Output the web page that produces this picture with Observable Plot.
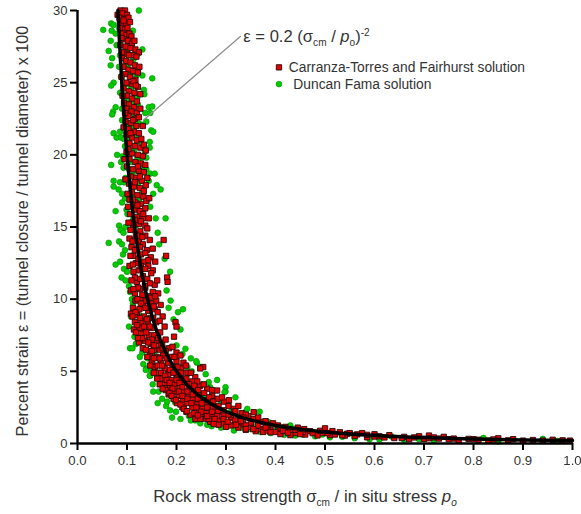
<!DOCTYPE html>
<html><head><meta charset="utf-8">
<script src="https://cdn.jsdelivr.net/npm/d3@7"></script>
<script src="https://cdn.jsdelivr.net/npm/@observablehq/plot@0.6"></script>
<style>html,body{margin:0;padding:0;background:#fff}svg{display:block;filter:blur(.45px)}</style>
</head><body><div id="chart"></div>
<script>
// [rock mass strength ratio, percent strain] pairs
const greenUpper = [[.124,30],[.052,28.66],[.068,29.1],[.073,29],[.069,28.6],[.077,28.4],[.067,27.9],[.079,27.6],[.063,27.2],[.131,27.3],[.07,26.7],[.067,26.2],[.151,25.3],[.131,25.5],[.073,25],[.068,24.8],[.134,24.5],[.135,24.2],[.077,23.3],[.072,23],[.07,22.8],[.144,23.3],[.151,23.35],[.137,22.9],[.147,22.9],[.139,22.3],[.149,21.7],[.153,21.6],[.073,21.5],[.086,21.6],[.079,21.2],[.088,21.2],[.146,20.9],[.146,20.5],[.08,20],[.068,19.3],[.088,19.5],[.139,19.8],[.139,19],[.147,18.7],[.156,18.7],[.073,18.2],[.073,17.8],[.086,18.1],[.094,18.1],[.16,17.9],[.168,17.6],[.153,17.3],[.083,17.6],[.077,16.1],[.158,15.6],[.178,15.6],[.09,16.7],[.142,16.9],[.104,16.9],[.089,28.1],[.122,27],[.084,26.1],[.118,25.9],[.086,24.3],[.121,24],[.09,22.4],[.128,22.1],[.096,20.6],[.131,19.2],[.097,18.4],[.147,16.4],[.101,15.9],[.091,19.9],[.093,19.1],[.09,17.3],[.096,17],[.099,16.2],[.144,18.2],[.136,20.2],[.094,21.1],[.09,23.2],[.088,25.4],[.086,26.9],[.084,28.8]];
const greenInner = [[.112,28.6],[.107,27.8],[.098,27.2],[.113,26.6],[.101,26.2],[.109,25.7],[.119,25.5],[.1,24.9],[.108,24.6],[.117,24.1],[.102,23.8],[.111,23.6],[.122,23.5],[.105,23.1],[.114,22.8],[.122,22.2],[.1,22.1],[.113,22],[.106,21.7],[.117,21.3],[.127,20.9],[.104,21.1],[.114,20.3],[.108,20.3],[.121,19.8],[.129,19.8],[.11,19.5],[.119,18.9],[.104,19],[.111,18.6],[.128,18.7],[.122,18],[.109,17.9],[.131,17.5],[.114,17.2],[.124,16.9],[.11,16.4],[.118,16.3],[.131,16.1],[.113,15.6],[.126,15.6],[.118,15.1]];
const greenMiddle = [[.063,13.9],[.084,15.1],[.087,14.8],[.097,15],[.084,14],[.09,13.8],[.092,13.1],[.077,12.4],[.086,12.6],[.094,12.1],[.089,11.5],[.097,11.3],[.104,10.9],[.106,10.5],[.187,11.9],[.188,9.9],[.184,9.4],[.203,9.1],[.213,9.3],[.208,7.9],[.104,8.1],[.115,7.4],[.106,6.6],[.111,6.6],[.131,6.3],[.126,6],[.139,5.2],[.147,4.7],[.152,4.1],[.153,3.6],[.162,2.8],[.187,2.3],[.191,1.8],[.208,1.7],[.241,5.6],[.259,4.8],[.282,4.4],[.299,3.9],[.299,3.6],[.319,3.2],[.316,.9],[.29,1.1],[.3,1.2],[.279,1.6],[.238,1.6],[.225,1.9],[.12,7.9],[.124,8.9],[.112,9.7],[.128,7.1],[.142,5.9],[.133,5.5],[.149,5],[.164,3.6],[.171,3.1],[.179,2.6],[.199,2.2],[.215,2.4],[.229,1.6],[.248,1.4],[.262,1.3],[.271,1.2],[.251,4.1],[.268,3.9],[.231,5],[.222,5.3],[.288,3],[.305,2.7],[.34,2.2],[.332,1.1],[.35,1],[.181,2.9],[.197,2.86],[.248,5.3],[.265,4.25],[.297,3.56],[.343,2.4],[.368,2.2],[.37,.95],[.218,6.56],[.24,5.7],[.146,4.7],[.138,5.1],[.155,6.2],[.118,6.9],[.108,8.8],[.11,10],[.1,11.9],[.096,13.4],[.194,8.6],[.18,10.6],[.176,12.8],[.165,13.8],[.162,14.6],[.093,14.6],[.2,6.8],[.212,6.2],[.229,5.9],[.255,3.3],[.276,3.1],[.31,2.2],[.328,1.9],[.262,1.9],[.292,1.5],[.177,3.9],[.168,4.4]];
const greenTail = [[.37,.8],[.39,.72],[.402,.96],[.418,.6],[.44,.55],[.455,.62],[.48,.5],[.495,.62],[.51,.43],[.535,.46],[.56,.37],[.59,.3],[.61,.28],[.635,.48],[.66,.24],[.69,.3],[.72,.22],[.82,.38],[.85,.15],[.94,.32],[.97,.18],[.36,1.7],[.385,1.5],[.43,1.25],[.352,1.3],[.41,1.05],[.33,1.75]];
const redUpper = [[.087,30],[.096,30],[.081,29.7],[.091,29.8],[.1,29.7],[.085,29.5],[.094,29.4],[.103,29.5],[.09,29.1],[.098,29.1],[.106,29.2],[.088,28.8],[.096,28.7],[.101,28.8],[.092,28.4],[.099,28.3],[.105,28.4],[.109,28.2],[.094,28],[.102,27.9],[.11,27.7],[.097,27.5],[.107,27.4],[.117,27.3],[.124,27.1],[.093,27.1],[.101,27],[.111,26.9],[.119,26.8],[.09,26.7],[.098,26.5],[.107,26.4],[.116,26.2],[.125,26.1],[.093,26.1],[.103,25.9],[.112,25.8],[.097,25.6],[.106,25.4],[.117,25.2],[.099,25],[.11,24.9],[.122,24.7],[.093,24.6],[.104,24.4],[.115,24.3],[.1,24.1],[.11,23.9],[.12,23.7],[.094,23.6],[.104,23.5],[.114,23.3],[.099,23.2],[.109,23],[.12,22.9],[.103,22.7],[.116,22.5],[.124,22.6],[.097,22.3],[.108,22.2],[.119,22],[.103,21.8],[.114,21.6],[.124,21.5],[.099,21.4],[.11,21.2],[.12,21],[.129,21.1],[.105,20.8],[.116,20.6],[.127,20.5],[.099,20.2],[.11,20.1],[.122,20],[.132,19.9],[.105,19.7],[.117,19.5],[.128,19.4],[.1,19.2],[.112,19],[.124,18.9],[.134,18.8],[.108,18.5],[.119,18.4],[.13,18.2],[.104,18],[.114,17.8],[.126,17.7],[.138,17.9],[.11,17.4],[.121,17.2],[.133,17.1],[.105,16.9],[.117,16.7],[.128,16.6],[.115,16.2],[.126,16.1],[.137,16.3],[.106,15.9],[.12,15.7],[.132,15.6],[.11,15.3],[.124,15.2],[.137,15.1],[.144,15.6]];
const redMiddle = [[.112,14.9],[.118,14.5],[.127,14.7],[.137,14.4],[.105,14.2],[.115,14.1],[.124,14],[.174,14.1],[.132,13.8],[.109,13.6],[.12,13.5],[.14,13.4],[.128,13.1],[.179,13],[.113,13],[.148,12.9],[.118,12.5],[.134,12.6],[.105,12.3],[.143,12.3],[.124,12],[.152,12],[.113,11.9],[.132,11.6],[.181,11.5],[.141,11.4],[.12,11.2],[.182,11.2],[.156,11],[.146,11.1],[.108,10.6],[.127,10.7],[.137,10.8],[.116,10.4],[.152,10.5],[.143,10.2],[.163,10.4],[.127,10],[.159,9.9],[.117,9.9],[.133,9.6],[.149,9.7],[.168,9.6],[.112,9.4],[.125,9.3],[.143,9.2],[.156,9.3],[.108,9],[.12,8.9],[.134,8.8],[.147,8.7],[.172,8.8],[.116,8.4],[.129,8.4],[.142,8.3],[.159,8.4],[.198,8.4],[.125,8],[.137,7.9],[.15,8],[.2,8.1],[.114,7.9],[.167,7.7],[.128,7.6],[.144,7.5],[.155,7.5],[.195,7.4],[.124,7],[.137,7.1],[.16,7.1],[.171,7],[.148,6.9],[.132,6.6],[.154,6.5],[.166,6.5],[.185,6.6],[.178,6.4],[.2,6.3],[.146,6.2],[.16,6],[.173,6.1],[.19,6],[.208,6.1],[.15,5.7],[.168,5.6],[.183,5.6],[.2,5.7],[.214,5.6],[.156,5.3],[.176,5.2],[.192,5.3],[.254,5.3],[.248,5.2],[.21,5.2],[.163,4.9],[.183,4.8],[.2,4.8],[.222,4.9],[.17,4.5],[.19,4.4],[.209,4.5],[.238,4.6]];
const redLower = [[.177,4.2],[.197,4.1],[.216,4.2],[.186,3.9],[.206,3.9],[.226,3.9],[.248,4],[.178,3.7],[.195,3.6],[.214,3.6],[.235,3.7],[.262,3.8],[.184,3.4],[.204,3.3],[.224,3.4],[.244,3.4],[.272,3.3],[.194,3.1],[.213,3],[.233,3.1],[.255,3],[.283,3.1],[.201,2.8],[.221,2.8],[.242,2.7],[.263,2.8],[.296,2.9],[.212,2.5],[.232,2.5],[.252,2.4],[.274,2.5],[.305,2.6],[.22,2.2],[.24,2.2],[.26,2.1],[.284,2.2],[.316,2.4],[.228,2],[.25,1.9],[.271,1.9],[.295,2],[.332,2.1],[.238,1.7],[.26,1.7],[.284,1.6],[.31,1.8],[.345,1.9],[.268,1.5],[.296,1.4],[.322,1.5],[.356,1.7],[.285,1.3],[.31,1.25],[.335,1.35],[.37,1.5],[.325,1.1],[.35,1.15],[.385,1.3],[.34,.95],[.37,1],[.405,1.25],[.36,.85],[.39,.95],[.42,1.15],[.445,1.1]];
const redTail = [[.375,.8],[.4,.8],[.43,.9],[.458,1],[.41,.65],[.44,.72],[.47,.85],[.495,.73],[.43,.58],[.46,.62],[.485,.56],[.5,1.05],[.515,.86],[.53,.78],[.545,.68],[.565,.63],[.575,.72],[.51,.58],[.54,.55],[.6,.64],[.61,.5],[.63,.58],[.585,.43],[.64,.38],[.66,.46],[.67,.3],[.69,.5],[.71,.55],[.72,.42],[.74,.46],[.7,.32],[.75,.3],[.79,.32],[.81,.26],[.85,.36],[.88,.3],[.9,.2],[.92,.24],[.96,.26],[.98,.22],[.995,.2],[.83,.2],[.77,.2]];
const redDense = [[.093,29.3],[.089,28.1],[.115,27.9],[.086,27.6],[.104,26.9],[.122,25.7],[.089,25.4],[.113,25.1],[.127,24.2],[.091,24.1],[.118,24.8],[.096,22.9],[.127,23.2],[.112,22.4],[.132,22],[.093,21.9],[.107,21.5],[.134,20.7],[.103,20.4],[.138,20.3],[.095,19.7],[.122,19.2],[.137,19.3],[.126,18.5],[.141,18.4],[.097,18.3],[.116,18.1],[.134,17.5],[.101,17.3],[.112,16.9],[.139,16.8],[.145,17],[.102,16.4],[.121,16.5],[.133,15.9],[.116,15.5],[.103,15.3],[.128,15.4],[.141,14.9],[.107,14.8],[.122,14.4],[.131,14.3],[.146,14.1],[.111,14],[.126,13.6],[.137,13.2],[.116,13.4],[.152,13.5],[.107,13],[.123,12.8],[.143,12.7],[.157,12.6],[.112,12.4],[.128,12.3],[.149,11.8],[.116,11.5],[.127,11.4],[.137,12.1],[.109,11.3],[.161,11.3],[.136,10.9],[.122,10.8],[.113,10.7],[.148,10.1],[.131,10.3],[.157,10.2],[.121,10],[.139,9.9],[.154,9.5],[.117,9.1],[.128,9.7],[.137,9.4],[.162,9.1],[.111,8.8],[.126,8.7],[.14,8.6],[.153,8.7],[.166,8.5],[.12,8.2],[.134,8.1],[.146,8.1],[.176,8.1],[.118,7.7],[.131,7.3],[.139,7.7],[.15,7.2],[.163,7.3],[.122,7.3],[.143,7],[.155,6.8],[.168,6.8],[.178,7.2],[.138,6.5],[.15,6.4],[.172,6.6],[.192,6.7],[.141,6],[.154,5.9],[.166,5.9],[.18,5.9],[.196,6],[.147,5.4],[.162,5.4],[.171,5.4],[.187,5.1],[.202,5.3],[.219,5.4],[.154,4.9],[.169,4.9],[.177,4.7],[.194,4.9],[.209,4.9],[.229,4.9],[.161,4.5],[.18,4.4],[.2,4.4],[.22,4.5],[.232,4.3],[.166,4.1],[.186,4.2],[.206,4.2],[.225,4.1],[.242,4.3],[.172,3.8],[.192,3.8],[.212,3.9],[.236,4],[.255,4.1],[.186,3.5],[.205,3.6],[.222,3.6],[.244,3.7],[.272,3.7],[.19,3.3],[.212,3.3],[.233,3.4],[.256,3.5],[.282,3.67],[.199,3],[.222,3.1],[.243,3.1],[.266,3.2],[.292,3.2],[.208,2.7],[.23,2.8],[.251,2.8],[.274,2.9],[.306,3],[.215,2.4],[.24,2.5],[.262,2.5],[.285,2.6],[.319,2.24],[.221,2.24],[.236,2.1],[.25,2.2],[.272,2.2],[.295,2.3],[.325,2.6],[.248,1.7],[.265,1.7],[.243,1.95],[.262,1.9],[.282,1.9],[.305,2],[.34,2],[.356,2.17],[.277,1.7],[.295,1.7],[.318,1.6],[.335,1.8],[.365,1.8],[.275,1.35],[.304,1.5],[.33,1.55],[.35,1.45],[.38,1.55],[.3,1.15],[.32,1.3],[.34,1.25],[.365,1.25],[.395,1.4],[.34,1],[.384,.9],[.355,1],[.38,1.1],[.41,1.1],[.415,.88],[.44,.95],[.39,.78],[.425,.75],[.455,.8],[.475,.72],[.45,.65],[.49,.88],[.505,.72],[.52,.62],[.55,.72],[.535,.58],[.56,.52],[.585,.6],[.6,.48],[.62,.42],[.655,.38],[.68,.42],[.71,.36],[.73,.34],[.76,.34],[.8,.3],[.84,.28],[.87,.22],[.94,.2]];
// the fitted line
const curveX = [.0816,.085,.09,.095,.1,.105,.11,.12,.13,.14,.15,.16,.18,.2,.22,.25,.3,.35,.4,.5,.6,.7,.8,.9,1];
const curveY = [30,27.7,24.7,22.2,20,18.1,16.5,13.9,11.8,10.2,8.9,7.8,6.2,5,4.13,3.2,2.22,1.63,1.25,.8,.56,.41,.31,.25,.2];
const xTicks = [0,.1,.2,.3,.4,.5,.6,.7,.8,.9,1];
const yTicks = [0,5,10,15,20,25,30];
const legendLabels = ["Carranza-Torres and Fairhurst solution","Duncan Fama solution"];
const leaderX = [.133,.329], leaderY = [22.4,28.2];

const ink="#333", font="'Liberation Sans',Arial,sans-serif";
const green=[...greenUpper,...greenInner,...greenMiddle,...greenTail];
const red=[...redUpper,...redMiddle,...redLower,...redTail,...redDense];

const chart = Plot.plot({
  width:581,height:514,marginLeft:77,marginRight:9,marginTop:10,marginBottom:71,
  style:{fontFamily:font,background:"#fff",overflow:"visible"},
  x:{domain:[0,1]},y:{domain:[0,30]},
  marks:[
    Plot.dot(green,{x:d=>d[0],y:d=>d[1],r:2.9,fill:"#00cc00",stroke:"#0a8a0a",strokeWidth:.6}),
    Plot.dot(red,{x:d=>d[0],y:d=>d[1],symbol:"square",r:3,fill:"#e60000",stroke:"#2a0808",strokeWidth:.9}),
    Plot.line(curveX.map((x,i)=>[x,curveY[i]]),{x:d=>d[0],y:d=>d[1],stroke:"#000",strokeWidth:3.5,curve:"monotone-y"}),
    Plot.line(leaderX.map((x,i)=>[x,leaderY[i]]),{x:d=>d[0],y:d=>d[1],stroke:"#8c8c8c",strokeWidth:1.2}),
    Plot.ruleX([0],{stroke:"#000",strokeWidth:2.4}),
    Plot.ruleY([0],{stroke:"#000",strokeWidth:2.4}),
    Plot.axisX({ticks:xTicks,tickFormat:d3.format(".1f"),tickSize:7,tickPadding:5,strokeWidth:2,stroke:"#000",fill:ink,fontSize:13.2,label:null}),
    Plot.axisY({ticks:yTicks,tickSize:7,tickPadding:3,strokeWidth:2,stroke:"#000",fill:ink,fontSize:13,label:null}),
    Plot.dot([[.407,26.06]],{x:d=>d[0],y:d=>d[1],symbol:"square",r:3,fill:"#e60000",stroke:"#2a0808",strokeWidth:.9}),
    Plot.dot([[.407,24.9]],{x:d=>d[0],y:d=>d[1],r:2.9,fill:"#00cc00",stroke:"#0a8a0a",strokeWidth:.6}),
    Plot.text([legendLabels[0]],{x:[.427],y:[26.06],textAnchor:"start",fontSize:13.8,fill:ink}),
    Plot.text([legendLabels[1]],{x:[.436],y:[24.9],textAnchor:"start",fontSize:13.8,fill:ink}),
    Plot.text(["formula"],{x:[.335],y:[28.2],textAnchor:"start",fontSize:16.6,fill:ink,className:"rich-formula"}),
    Plot.text(["Percent strain ε = (tunnel closure / tunnel diameter) x 100"],{frameAnchor:"left",textAnchor:"middle",dx:-55,dy:4,rotate:-90,fontSize:16.2,fill:ink,className:"ylabel"}),
    Plot.text(["xlabel"],{frameAnchor:"bottom",dy:58,dx:-20,fontSize:16.8,fill:ink,className:"rich-xlabel"})
  ]
});
function rich(sel,parts){
  const t=chart.querySelector(sel+" text"); t.textContent="";
  let shift=0;
  parts.forEach(p=>{
    const s=document.createElementNS("http://www.w3.org/2000/svg","tspan");
    s.textContent=p.t;
    const lift=p.lift||0, size=p.size||1;
    const base=parseFloat(t.getAttribute("font-size"))||14;
    s.setAttribute("dy",(shift-lift)*base);
    shift=lift;
    if(size!==1)s.setAttribute("font-size",base*size);
    if(p.it)s.setAttribute("font-style","italic");
    t.appendChild(s);
  });
}
rich(".rich-formula",[{t:"ε = 0.2 (σ"},{t:"cm",lift:-.3,size:.72},{t:" / "},{t:"p",it:1},{t:"o",lift:-.3,size:.72},{t:")"},{t:"-2",lift:.4,size:.72}]);
rich(".rich-xlabel",[{t:"Rock mass strength σ"},{t:"cm",lift:-.3,size:.72},{t:" / in situ stress "},{t:"p",it:1},{t:"o",lift:-.3,size:.72,it:1}]);
document.getElementById("chart").appendChild(chart);
</script></body></html>
